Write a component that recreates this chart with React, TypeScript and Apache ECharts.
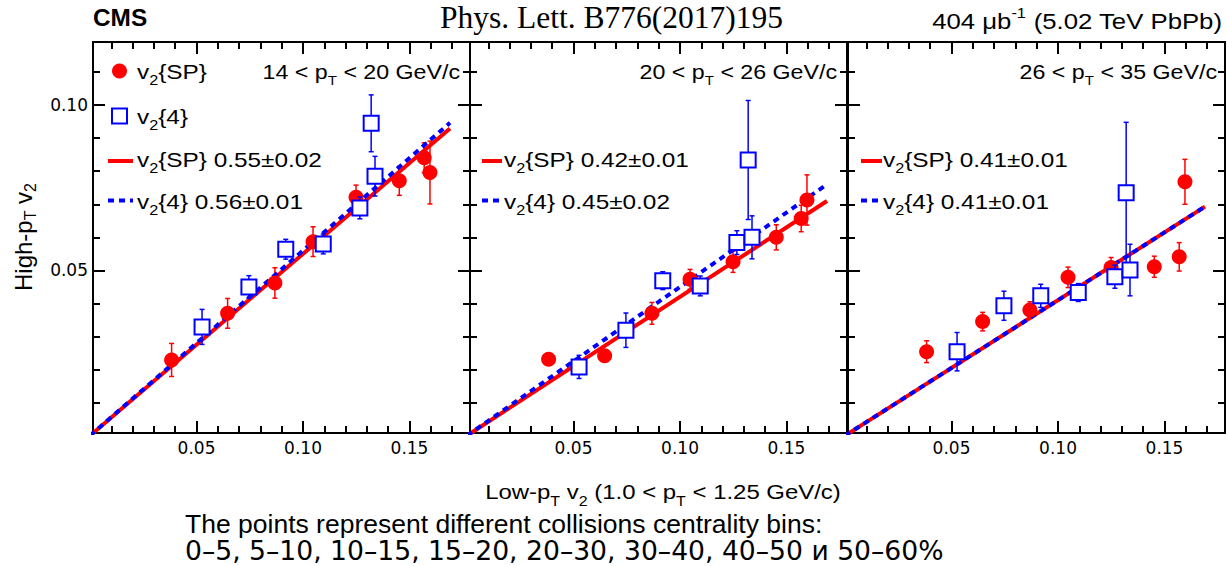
import React, { useEffect, useRef } from "react";
import * as echarts from "echarts";

// ---------------- data ----------------
// low-pT v2 (x) of the 8 centrality bins, scalar-product method
const lowPtSP = [0.0383, 0.0646, 0.0868, 0.1047, 0.1249, 0.1452, 0.1569, 0.1596];
// low-pT v2 (x) of the 7 centrality bins, 4-particle cumulant
const lowPtFour = [0.0526, 0.0746, 0.0919, 0.1095, 0.1267, 0.1338, 0.132];

// panel 1 : 14 < pT < 20 GeV/c
const highSP_14_20 = [0.0229, 0.037, 0.0462, 0.0587, 0.0721, 0.0771, 0.0841, 0.0796];
const errSP_14_20 = [0.005, 0.0045, 0.0046, 0.0045, 0.0037, 0.0044, 0.0045, 0.0095];
const highFour_14_20 = [0.0329, 0.045, 0.0564, 0.058, 0.0689, 0.0785, 0.0945];
const errFour_14_20 = [0.0053, 0.0034, 0.003, 0.003, 0.0033, 0.006, 0.0086];

// panel 2 : 20 < pT < 26 GeV/c
const highSP_20_26 = [0.0231, 0.0242, 0.037, 0.0473, 0.0526, 0.06, 0.0657, 0.0713];
const errSP_20_26 = [0.001, 0.001, 0.0033, 0.003, 0.0032, 0.0038, 0.004, 0.0076];
const highFour_20_26 = [0.0208, 0.0319, 0.0469, 0.0453, 0.0584, 0.06, 0.0834];
const errFour_20_26 = [0.0035, 0.0052, 0.0027, 0.003, 0.0036, 0.0065, 0.018];

// panel 3 : 26 < pT < 35 GeV/c
const highSP_26_35 = [0.0254, 0.0345, 0.038, 0.0479, 0.0509, 0.0511, 0.0541, 0.0768];
const errSP_26_35 = [0.0033, 0.0028, 0.0025, 0.0031, 0.003, 0.0032, 0.0043, 0.0068];
const highFour_26_35 = [0.0254, 0.0393, 0.0423, 0.0433, 0.0481, 0.0501, 0.0735];
const errFour_26_35 = [0.0058, 0.0044, 0.0035, 0.0027, 0.0035, 0.0078, 0.0213];

// linear fits (slope, error) per panel
const fitSlopeSP = [0.55, 0.42, 0.41];
const fitErrSP = ["0.02", "0.01", "0.01"];
const fitSlopeFour = [0.56, 0.45, 0.41];
const fitErrFour = ["0.01", "0.02", "0.01"];
const fitXRange = [0, 0.169];

const ptBinLabels = ["14 < p{s|T} < 20 GeV/c", "20 < p{s|T} < 26 GeV/c", "26 < p{s|T} < 35 GeV/c"];

// axes
const X_MIN = 0.0014;
const X_MAX = 0.1784;
const Y_MIN = 0.0008;
const Y_MAX = 0.1191;
const xMajorTicks = [0.05, 0.1, 0.15];
const xMinorTicks = [0.01, 0.02, 0.03, 0.04, 0.06, 0.07, 0.08, 0.09, 0.11, 0.12, 0.13, 0.14, 0.16, 0.17];
const yMajorTicks = [0.05, 0.1];
const yMinorTicks = [0.01, 0.02, 0.03, 0.04, 0.06, 0.07, 0.08, 0.09, 0.11];

// ---------------- layout / styles ----------------
const SANS = "Liberation Sans";
const RED = "#ff0000";
const BLUE = "#0000ff";
const GRID_LEFTS = [93, 470, 848];
const GRID_TOP = 42;
const GRID_W = 377;
const GRID_H = 391;
const LEG_LINE_X = [[108, 133, 137], [482, 502, 504], [861, 882, 883]];
const LABEL_RIGHT = [460, 837, 1217];

const panelHigh = [
  [highSP_14_20, errSP_14_20, highFour_14_20, errFour_14_20],
  [highSP_20_26, errSP_20_26, highFour_20_26, errFour_20_26],
  [highSP_26_35, errSP_26_35, highFour_26_35, errFour_26_35],
];

function errBars(gi: number, xs: number[], ys: number[], es: number[], color: string, z: number) {
  return {
    type: "custom",
    xAxisIndex: gi * 4,
    yAxisIndex: gi * 4,
    z,
    silent: true,
    data: xs.map((x, i) => [x, ys[i], es[i]]),
    encode: { x: 0, y: 1 },
    renderItem: (_p: any, api: any) => {
      const x = api.value(0);
      const y = api.value(1);
      const e = api.value(2);
      const a = api.coord([x, y + e]);
      const b = api.coord([x, y - e]);
      const c = 2.5;
      const st = { stroke: color, lineWidth: 1.5 };
      return {
        type: "group",
        children: [
          { type: "line", shape: { x1: a[0], y1: a[1], x2: b[0], y2: b[1] }, style: st },
          { type: "line", shape: { x1: a[0] - c, y1: a[1], x2: a[0] + c, y2: a[1] }, style: st },
          { type: "line", shape: { x1: b[0] - c, y1: b[1], x2: b[0] + c, y2: b[1] }, style: st },
        ],
      };
    },
  };
}

function tick(vals: number[], len: number) {
  return { show: true, inside: true, length: len, customValues: vals, lineStyle: { color: "#000", width: 2 } };
}

function xAxesFor(gi: number) {
  const base = {
    gridIndex: gi,
    type: "value",
    min: X_MIN,
    max: X_MAX,
    axisLine: { show: false, onZero: false },
    splitLine: { show: false },
    silent: true,
  };
  return [
    {
      ...base,
      position: "bottom",
      axisTick: tick(xMajorTicks, 12),
      axisLabel: {
        show: true,
        customValues: xMajorTicks,
        formatter: (v: number) => v.toFixed(2),
        margin: 6,
        fontSize: 17,
        fontFamily: "DejaVu Sans",
        color: "#000",
      },
    },
    { ...base, position: "bottom", axisTick: tick(xMinorTicks, 7), axisLabel: { show: false } },
    { ...base, position: "top", axisTick: tick(xMajorTicks, 12), axisLabel: { show: false } },
    { ...base, position: "top", axisTick: tick(xMinorTicks, 7), axisLabel: { show: false } },
  ];
}

function yAxesFor(gi: number) {
  const base = {
    gridIndex: gi,
    type: "value",
    min: Y_MIN,
    max: Y_MAX,
    axisLine: { show: false, onZero: false },
    splitLine: { show: false },
    silent: true,
  };
  return [
    {
      ...base,
      position: "left",
      axisTick: tick(yMajorTicks, 12),
      axisLabel:
        gi === 0
          ? {
              show: true,
              customValues: yMajorTicks,
              formatter: (v: number) => v.toFixed(2),
              margin: 5,
              fontSize: 17,
              fontFamily: "DejaVu Sans",
              color: "#000",
            }
          : { show: false },
    },
    { ...base, position: "left", axisTick: tick(yMinorTicks, 7), axisLabel: { show: false } },
    { ...base, position: "right", axisTick: tick(yMajorTicks, 12), axisLabel: { show: false } },
    { ...base, position: "right", axisTick: tick(yMinorTicks, 7), axisLabel: { show: false } },
  ];
}

function txt(
  x: number,
  y: number,
  text: string,
  o: {
    fontSize: number;
    subSize?: number;
    scaleX?: number;
    align?: string;
    rotation?: number;
    fontFamily?: string;
    fontWeight?: string;
    lineHeight?: number;
  }
) {
  const sub = o.subSize ?? Math.round(o.fontSize * 0.66);
  return {
    type: "text",
    x,
    y,
    scaleX: o.scaleX ?? 1,
    rotation: o.rotation ?? 0,
    silent: true,
    z: 100,
    style: {
      text,
      fill: "#000",
      fontSize: o.fontSize,
      fontFamily: o.fontFamily ?? SANS,
      fontWeight: o.fontWeight ?? "normal",
      align: o.align ?? "left",
      verticalAlign: "middle",
      lineHeight: o.lineHeight ?? 30,
      rich: {
        s: { fontSize: sub, fontFamily: SANS, fill: "#000", verticalAlign: "bottom" },
        p: { fontSize: sub, fontFamily: SANS, fill: "#000", verticalAlign: "top" },
      },
    },
  };
}

function buildOption() {
  const grid = GRID_LEFTS.map((left) => ({
    left,
    top: GRID_TOP,
    width: GRID_W,
    height: GRID_H,
    show: true,
    borderColor: "#000",
    borderWidth: 2,
    backgroundColor: "transparent",
    containLabel: false,
    outerBoundsMode: "none",
  }));
  const xAxis: any[] = [];
  const yAxis: any[] = [];
  const series: any[] = [];
  const elements: any[] = [];

  GRID_LEFTS.forEach((_l, gi) => {
    xAxis.push(...xAxesFor(gi));
    yAxis.push(...yAxesFor(gi));
    const [hSP, eSP, hF, eF] = panelHigh[gi];
    const ax = { xAxisIndex: gi * 4, yAxisIndex: gi * 4 };

    series.push(errBars(gi, lowPtSP, hSP, eSP, RED, 2));
    series.push({
      type: "line",
      ...ax,
      z: 3,
      silent: true,
      symbol: "none",
      clip: true,
      data: fitXRange.map((x) => [x, x * fitSlopeSP[gi]]),
      lineStyle: { color: RED, width: 4, opacity: 1 },
    });
    series.push({
      type: "line",
      ...ax,
      z: 4,
      silent: true,
      symbol: "none",
      clip: true,
      data: fitXRange.map((x) => [x, x * fitSlopeFour[gi]]),
      lineStyle: { color: BLUE, width: 4, type: [6, 5], opacity: 1 },
    });
    series.push({
      type: "scatter",
      ...ax,
      z: 5,
      silent: true,
      symbol: "circle",
      symbolSize: 15,
      itemStyle: { color: RED, opacity: 1 },
      data: lowPtSP.map((x, i) => [x, hSP[i]]),
    });
    series.push(errBars(gi, lowPtFour, hF, eF, BLUE, 6));
    series.push({
      type: "scatter",
      ...ax,
      z: 7,
      silent: true,
      symbol: "rect",
      symbolSize: 15,
      itemStyle: { color: "#ffffff", borderColor: BLUE, borderWidth: 2, opacity: 1 },
      data: lowPtFour.map((x, i) => [x, hF[i]]),
    });

    // legend entries (fit lines)
    const [lx1, lx2, tx] = LEG_LINE_X[gi];
    elements.push({
      type: "line",
      silent: true,
      z: 100,
      shape: { x1: lx1, y1: 161, x2: lx2, y2: 161 },
      style: { stroke: RED, lineWidth: 4 },
    });
    elements.push({
      type: "line",
      silent: true,
      z: 100,
      shape: { x1: lx1, y1: 200.5, x2: lx2, y2: 200.5 },
      style: { stroke: BLUE, lineWidth: 4, lineDash: [6, 5] },
    });
    elements.push(
      txt(tx, 159.5, `v{s|2}{SP} ${fitSlopeSP[gi].toFixed(2)}±${fitErrSP[gi]}`, { fontSize: 21, subSize: 14, scaleX: 1.16 })
    );
    elements.push(
      txt(tx, 202, `v{s|2}{4} ${fitSlopeFour[gi].toFixed(2)}±${fitErrFour[gi]}`, { fontSize: 21, subSize: 14, scaleX: 1.16 })
    );
    // pT bin label
    elements.push(txt(LABEL_RIGHT[gi], 72, ptBinLabels[gi], { fontSize: 20, subSize: 13, scaleX: 1.16, align: "right" }));
  });

  // legend markers for panel 1
  elements.push({ type: "circle", silent: true, z: 100, shape: { cx: 119.5, cy: 71, r: 7.5 }, style: { fill: RED } });
  elements.push({
    type: "rect",
    silent: true,
    z: 100,
    shape: { x: 112, y: 108.5, width: 15, height: 15 },
    style: { fill: "#fff", stroke: BLUE, lineWidth: 2 },
  });
  elements.push(txt(137, 72, "v{s|2}{SP}", { fontSize: 21, subSize: 14, scaleX: 1.16 }));
  elements.push(txt(137, 117, "v{s|2}{4}", { fontSize: 21, subSize: 14, scaleX: 1.16 }));

  // titles
  elements.push(txt(93, 18, "CMS", { fontSize: 23, fontWeight: "bold", scaleX: 1.06 }));
  elements.push(
    txt(440, 17.5, "Phys. Lett. B776(2017)195", { fontSize: 31.5, fontFamily: "Liberation Serif", lineHeight: 31.5 })
  );
  elements.push(
    txt(1222, 21, "404 μb{p|-1} (5.02 TeV PbPb)", { fontSize: 22, subSize: 14, scaleX: 1.17, align: "right" })
  );
  // axis titles
  elements.push(
    txt(663, 492.5, "Low-p{s|T} v{s|2} (1.0 < p{s|T} < 1.25 GeV/c)", {
      fontSize: 21,
      subSize: 14,
      scaleX: 1.14,
      align: "center",
    })
  );
  elements.push(
    txt(23.5, 237, "High-p{s|T} v{s|2}", { fontSize: 24, subSize: 16, align: "center", rotation: Math.PI / 2 })
  );
  // notes
  elements.push(
    txt(185, 524, "The points represent different collisions centrality bins:", { fontSize: 26.5, lineHeight: 28 })
  );
  elements.push(
    txt(185, 551, "0–5, 5–10, 10–15, 15–20, 20–30, 30–40, 40–50 и 50–60%", {
      fontSize: 26.5,
      fontFamily: "DejaVu Sans",
      lineHeight: 28,
      scaleX: 1.005,
    })
  );

  return {
    animation: false,
    backgroundColor: "#ffffff",
    grid,
    xAxis,
    yAxis,
    series,
    graphic: { elements },
  };
}

export default function App() {
  const ref = useRef<HTMLDivElement>(null);
  useEffect(() => {
    if (!ref.current) return;
    const chart = echarts.init(ref.current, undefined, { renderer: "svg" });
    chart.setOption(buildOption() as any);
    return () => chart.dispose();
  }, []);
  return (
    <div
      ref={ref}
      style={{ position: "absolute", left: 0, top: 0, width: 1227, height: 566 }}
    />
  );
}
